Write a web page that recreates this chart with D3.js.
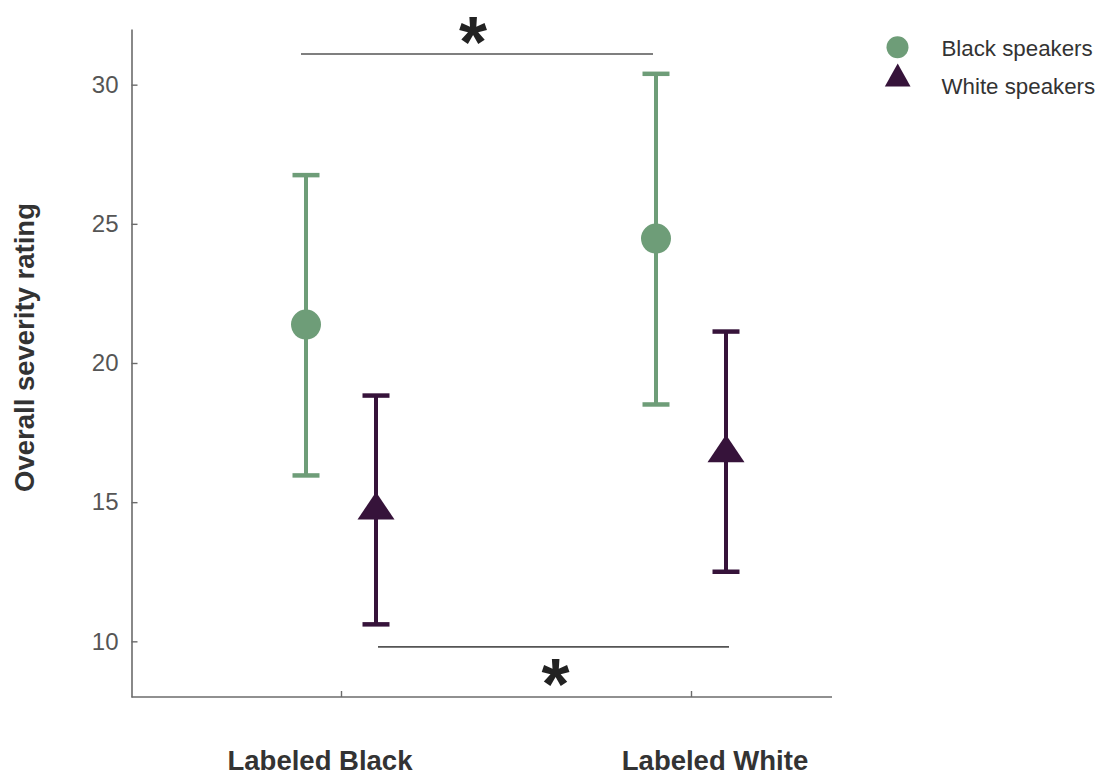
<!doctype html>
<html>
<head>
<meta charset="utf-8">
<script src="https://cdn.jsdelivr.net/npm/d3@7"></script>
<style>
  body { margin: 0; background: #fff; }
  svg { display: block; font-family: "Liberation Sans", Arial, sans-serif; }
</style>
</head>
<body>
<svg id="chart" width="1104" height="775"></svg>
<script>
// data
const conditions = ["Labeled Black", "Labeled White"]
const groups = ["Black speakers", "White speakers"]
const blackMean = [21.38, 24.47]
const blackLow = [15.96, 18.51]
const blackHigh = [26.75, 30.39]
const whiteMean = [14.87, 16.93]
const whiteLow = [10.61, 12.5]
const whiteHigh = [18.83, 21.13]
const yTicks = [10, 15, 20, 25, 30]
// significance brackets: which group, level of the line
const sigGroups = [0, 1]
const sigLevels = [31.1, 9.8]

const green = "#6e9d78"
const purple = "#36133a"
const colors = [green, purple]

const svg = d3.select('#chart')

const y = d3.scaleLinear().domain([8, 32]).range([697, 29])
const x = d3.scalePoint().domain(conditions).range([341, 691])
const dodge = [-35, 35]
const axisLeft = 131.5
const axisRight = 832

const series = [
    { mean: blackMean, low: blackLow, high: blackHigh },
    { mean: whiteMean, low: whiteLow, high: whiteHigh }
]

function triPath(cx, cy, w, h) {
    return 'M' + cx + ',' + (cy - h / 2) +
        'L' + (cx + w / 2) + ',' + (cy + h / 2) +
        'L' + (cx - w / 2) + ',' + (cy + h / 2) + 'Z'
}

// y axis
const gy = svg.append('g')
    .attr('transform', 'translate(' + axisLeft + ',0)')
    .call(d3.axisLeft(y).tickValues(yTicks).tickSize(-6).tickSizeOuter(0).tickPadding(13))
gy.select('.domain').attr('stroke', '#6b6b6b').attr('stroke-width', 1.6)
gy.selectAll('.tick line').attr('stroke', '#6b6b6b').attr('stroke-width', 1.4)
gy.selectAll('.tick text')
    .attr('fill', '#555')
    .attr('font-size', '24px')

// x axis
const gx = svg.append('g')
    .attr('transform', 'translate(0,' + y(8) + ')')
    .call(d3.axisBottom(x).tickSize(-6).tickSizeOuter(0).tickFormat(''))
gx.select('.domain').attr('d', 'M' + axisLeft + ',0H' + axisRight)
    .attr('stroke', '#6b6b6b').attr('stroke-width', 1.6)
gx.selectAll('.tick line').attr('stroke', '#6b6b6b').attr('stroke-width', 1.4)

// category labels sit a little off the ticks in the original
const labelShift = [-21, 24]
svg.selectAll('.xlab')
    .data(conditions)
    .enter()
    .append('text')
    .attr('class', 'xlab')
    .attr('x', (d, i) => x(d) + labelShift[i])
    .attr('y', 770)
    .attr('text-anchor', 'middle')
    .attr('font-size', '27.5px')
    .attr('font-weight', 'bold')
    .attr('fill', '#333')
    .text(d => d)

svg.append('text')
    .attr('transform', 'translate(33.5,347.5) rotate(-90)')
    .attr('text-anchor', 'middle')
    .attr('font-size', '27.5px')
    .attr('font-weight', 'bold')
    .attr('fill', '#333')
    .text('Overall severity rating')

// error bars and markers
series.forEach((s, g) => {
    const grp = svg.append('g')
    const px = d => x(d) + dodge[g]
    grp.selectAll('line.stem')
        .data(conditions)
        .enter()
        .append('line')
        .attr('x1', px).attr('x2', px)
        .attr('y1', (d, i) => y(s.low[i]))
        .attr('y2', (d, i) => y(s.high[i]))
        .attr('stroke', colors[g])
        .attr('stroke-width', 4)
    ;['low', 'high'].forEach(k => {
        grp.selectAll('line.cap-' + k)
            .data(conditions)
            .enter()
            .append('line')
            .attr('x1', d => px(d) - 13.5)
            .attr('x2', d => px(d) + 13.5)
            .attr('y1', (d, i) => y(s[k][i]))
            .attr('y2', (d, i) => y(s[k][i]))
            .attr('stroke', colors[g])
            .attr('stroke-width', 4.5)
    })
    if (g == 0) {
        grp.selectAll('circle')
            .data(conditions)
            .enter()
            .append('circle')
            .attr('cx', px)
            .attr('cy', (d, i) => y(s.mean[i]))
            .attr('r', 15)
            .attr('fill', colors[g])
    } else {
        grp.selectAll('path')
            .data(conditions)
            .enter()
            .append('path')
            .attr('d', (d, i) => triPath(px(d), y(s.mean[i]), 37, 27.6))
            .attr('fill', colors[g])
    }
})

// significance brackets
sigGroups.forEach((g, k) => {
    const x1 = x(conditions[0]) + dodge[g] + (g == 0 ? -5 : 2)
    const x2 = x(conditions[1]) + dodge[g] + (g == 0 ? -3 : 3)
    const ly = y(sigLevels[k])
    svg.append('line')
        .attr('x1', x1).attr('x2', x2)
        .attr('y1', ly).attr('y2', ly)
        .attr('stroke', '#555')
        .attr('stroke-width', 1.6)
    svg.append('text')
        .attr('x', (x1 + x2) / 2 + (g == 0 ? -4 : 2))
        .attr('y', g == 0 ? ly + 12.5 : ly + 62.5)
        .attr('text-anchor', 'middle')
        .attr('font-size', '72px')
        .attr('font-weight', 'bold')
        .attr('fill', '#222')
        .text('*')
})

// legend
const legend = svg.append('g')
legend.append('circle')
    .attr('cx', 897.5).attr('cy', 47.3).attr('r', 11)
    .attr('fill', green)
legend.append('path')
    .attr('d', triPath(897.7, 75, 25.7, 23))
    .attr('fill', purple)
legend.selectAll('text')
    .data(groups)
    .enter()
    .append('text')
    .attr('x', 941.5)
    .attr('y', (d, i) => 56 + i * 38)
    .attr('font-size', '22.3px')
    .attr('fill', '#333')
    .text(d => d)
</script>
</body>
</html>
